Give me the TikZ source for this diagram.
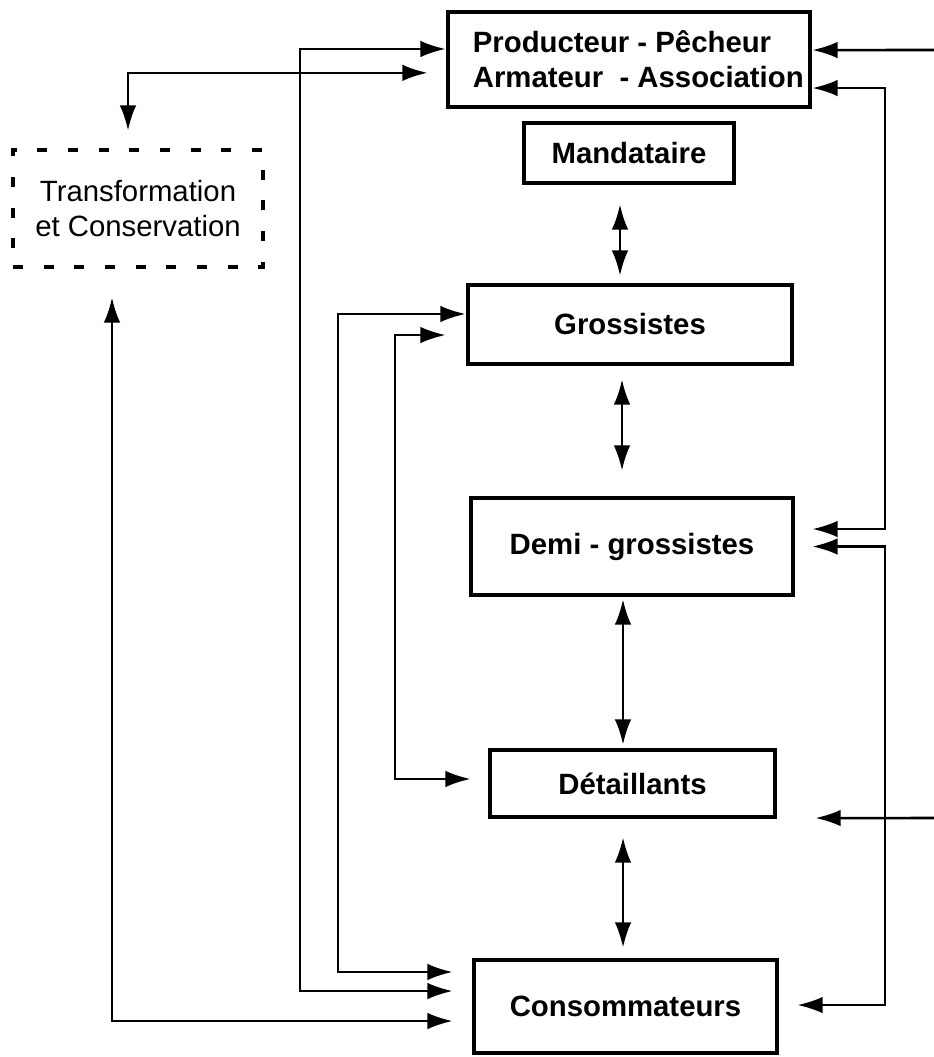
\documentclass[tikz,border=0pt]{standalone}
\usepackage{fontspec}
\setmainfont{Liberation Sans}
\usetikzlibrary{arrows.meta,calc}
\begin{document}
\begin{tikzpicture}[x=0.75pt,y=-0.75pt,
 box/.style={draw,line width=3.6pt,rectangle,inner sep=0pt,font=\bfseries\fontsize{22}{26.25}\selectfont,align=center},
 dbox/.style={draw,line width=3.6pt,dash pattern=on 7.5pt off 15.5pt,rectangle,inner sep=0pt,font=\fontsize{22}{26.25}\selectfont,align=center},
 con/.style={line width=1.9pt},
 tip/.tip={Latex[length=19pt,width=12.5pt]},
 one/.style={con,-tip},
 two/.style={con,tip-tip},
]
\useasboundingbox (0,0) rectangle (934,1057);

% nodes
\node[box,minimum width=271.5pt,minimum height=71.25pt,align=left] (prod) at (629,59.5) {\hspace*{14pt}Producteur - Pêcheur\\\hspace*{14pt}Armateur\ \ - Association};
\node[box,minimum width=157.5pt,minimum height=45pt] (mand) at (629,153) {Mandataire};
\node[box,minimum width=243pt,minimum height=59.25pt] (gros) at (630,324.5) {Grossistes};
\node[box,minimum width=241.5pt,minimum height=72.75pt] (demi) at (632,546.5) {Demi - grossistes};
\node[box,minimum width=213.75pt,minimum height=50.25pt] (det) at (632.5,783.5) {Détaillants};
\node[box,minimum width=227.25pt,minimum height=69.75pt] (cons) at (625.5,1006.5) {Consommateurs};
\node[dbox,minimum width=187.5pt,minimum height=87.75pt] (trans) at (138,208.5) {Transformation\\et Conservation};

% helper coordinates
\coordinate (L1) at (300,0);
\coordinate (L2) at (338,0);
\coordinate (L3) at (395,0);
\coordinate (R1) at (885,0);
\coordinate (E1) at (934,50);
\coordinate (E2) at (934,818);

\coordinate (pA) at ([yshift=7.9pt]prod.west);
\coordinate (pB) at ([yshift=-10pt]prod.west);
\coordinate (pC) at ([yshift=-21.4pt]prod.east);
\coordinate (pD) at ([yshift=7.1pt]prod.east);
\coordinate (gA) at ([yshift=7.9pt]gros.west);
\coordinate (gB) at ([yshift=-7.9pt]gros.west);
\coordinate (dA) at ([yshift=13.1pt]demi.east);
\coordinate (dB) at (demi.east);
\coordinate (tA) at ([yshift=3.4pt]det.west);
\coordinate (tB) at ([yshift=-25.9pt]det.east);
\coordinate (cA) at ([yshift=25.9pt]cons.west);
\coordinate (cB) at ([yshift=11.6pt]cons.west);
\coordinate (cC) at ([yshift=-10.9pt]cons.west);
\coordinate (cD) at ([yshift=1.1pt]cons.east);
\coordinate (trA) at ([xshift=-7.5pt]trans.north);
\coordinate (trB) at ([xshift=-19.5pt]trans.south);
\coordinate (m1) at ([xshift=-6.75pt]mand.south);
\coordinate (m2) at ([xshift=-6pt]gros.south);
\coordinate (m3) at ([xshift=-6.75pt]demi.south);
\coordinate (m4) at ([xshift=-7.1pt]det.south);

% vertical chain
\draw[two, shorten <=14.25pt, shorten >=5.25pt] (m1) -- (m1 |- gros.north);
\draw[two, shorten <=9.75pt, shorten >=18.75pt] (m2) -- (m2 |- demi.north);
\draw[two, shorten <=1.5pt, shorten >=2.25pt] (m3) -- (m3 |- det.north);
\draw[two, shorten <=13.5pt, shorten >=7.5pt] (m4) -- (m4 |- cons.north);

% left connectors
\draw[two, shorten <=13.5pt, shorten >=12.75pt] (pB) -| (trA);
\draw[two, shorten >=14.25pt] (pA) -- (pA -| L1) -- (cB -| L1) -- (cB);
\draw[two, shorten >=14.25pt] (gA) -- (gA -| L2) -- (cA -| L2) -- (cA);
\draw[two, shorten <=15pt, shorten >=12.75pt] (gB) -- (gB -| L3) -- (tA -| L3) -- (tA);
\draw[two, shorten <=21pt, shorten >=14.25pt] (trB) -- (trB |- cC) -- (cC);

% right connectors
\draw[one] (E1) -- (pD);
\draw[two, shorten >=12.75pt] (pC) -- (pC -| R1) -- (dA -| R1) -- (dA);
\draw[two, shorten <=12.75pt, shorten >=13.5pt] (dB) -- (dB -| R1) -- (cD -| R1) -- (cD);
\draw[one, shorten >=28.5pt] (E2) -- (tB);
\end{tikzpicture}
\end{document}
